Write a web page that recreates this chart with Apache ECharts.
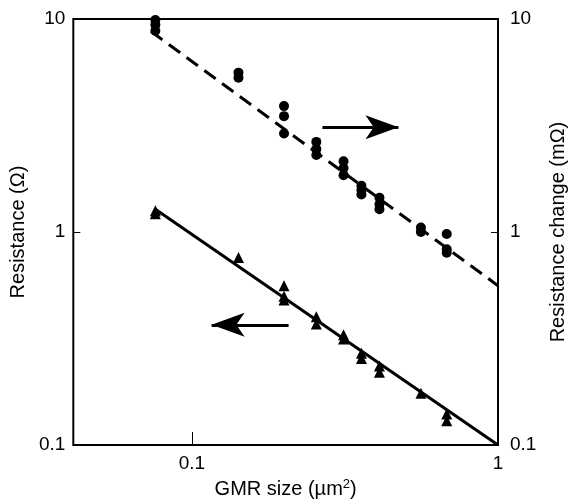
<!DOCTYPE html>
<html>
<head>
<meta charset="utf-8">
<script src="https://cdn.jsdelivr.net/npm/echarts@6/dist/echarts.min.js"></script>
<style>
  html, body { margin: 0; padding: 0; background: #fff; }
  #chart { width: 576px; height: 504px; }
</style>
</head>
<body>
<div id="chart"></div>
<script>
// GMR element size (µm²) for each resistance measurement
const resSize = [0.076, 0.076, 0.142, 0.2, 0.2, 0.2, 0.255, 0.255, 0.313, 0.313, 0.358, 0.358, 0.41, 0.41, 0.56, 0.68, 0.68];
// Resistance (Ω), left axis
const resistance = [1.26, 1.22, 0.76, 0.56, 0.50, 0.48, 0.40, 0.37, 0.33, 0.315, 0.27, 0.255, 0.235, 0.22, 0.175, 0.14, 0.13];

// GMR element size (µm²) for each resistance-change measurement
const chgSize = [0.076, 0.076, 0.076, 0.142, 0.142, 0.2, 0.2, 0.2, 0.255, 0.255, 0.255, 0.313, 0.313, 0.313, 0.358, 0.358, 0.358, 0.41, 0.41, 0.41, 0.56, 0.56, 0.68, 0.68, 0.68];
// Resistance change (mΩ), right axis
const resChange = [9.9, 9.4, 8.8, 5.6, 5.3, 3.9, 3.5, 2.9, 2.65, 2.45, 2.3, 2.15, 2.0, 1.85, 1.65, 1.57, 1.5, 1.45, 1.35, 1.28, 1.05, 1.0, 0.98, 0.83, 0.80];

// Fitted trend lines (end points in data units)
const resFitX = [0.076, 1];
const resFitY = [1.28, 0.1];
const chgFitX = [0.0736, 1];
const chgFitY = [8.74, 0.56];

// Arrows pointing each data set to its axis
const chgArrowX = [0.267, 0.473];
const chgArrowY = 3.1;
const resArrowX = [0.207, 0.116];
const resArrowY = 0.367;

// Axis limits and labelled ticks
const xRange = [0.041, 1];
const yRange = [0.1, 10];
const xTickLabels = [0.1, 1];
const yTickLabels = [0.1, 1, 10];

const zip = (xs, ys) => xs.map((x, i) => [x, ys[i]]);
const FONT = '"Liberation Sans", Arial, sans-serif';
const TICK_FS = 19;
const NAME_FS = 20;

function tickFormatter(list) {
  return v => {
    const hit = list.find(t => Math.abs(Math.log10(v) - Math.log10(t)) < 1e-6);
    return hit === undefined ? '' : String(hit);
  };
}

const chart = echarts.init(document.getElementById('chart'), null, { renderer: 'canvas' });

const yAxisBase = {
  type: 'log',
  logBase: 10,
  min: yRange[0],
  max: yRange[1],
  nameLocation: 'middle',
  nameTextStyle: { fontFamily: FONT, fontSize: NAME_FS, color: '#000' },
  axisLine: { show: false },
  axisTick: { show: true, inside: true, length: 7, lineStyle: { color: '#000', width: 1 } },
  minorTick: { show: false },
  splitLine: { show: false },
  axisLabel: { fontFamily: FONT, fontSize: TICK_FS, color: '#000', formatter: tickFormatter(yTickLabels), showMinLabel: true, showMaxLabel: true }
};

const arrowLine = {
  silent: true,
  symbol: ['none', 'arrow'],
  symbolSize: [18, 33],
  label: { show: false },
  lineStyle: { color: '#000', width: 3, type: 'solid' }
};

chart.setOption({
  animation: false,
  backgroundColor: '#fff',
  grid: { left: 71, right: 71, top: 19, bottom: 53, show: true, borderColor: '#000', borderWidth: 2 },
  xAxis: {
    type: 'log',
    logBase: 10,
    min: xRange[0],
    max: xRange[1],
    name: '{a|GMR size (µm}{s|2}{a|)}',
    nameLocation: 'middle',
    nameGap: 32,
    nameTextStyle: {
      rich: {
        a: { fontFamily: FONT, fontSize: NAME_FS, color: '#000' },
        s: { fontFamily: FONT, fontSize: 13, color: '#000', verticalAlign: 'top', padding: [0, 0, 9, 0] }
      }
    },
    axisLine: { show: false },
    axisTick: { show: true, inside: true, length: 13, lineStyle: { color: '#000', width: 1 } },
    splitLine: { show: false },
    axisLabel: { fontFamily: FONT, fontSize: TICK_FS, color: '#000', margin: 9, formatter: tickFormatter(xTickLabels), showMinLabel: false }
  },
  yAxis: [
    Object.assign({}, yAxisBase, { position: 'left', name: 'Resistance (Ω)', nameGap: 38 }),
    Object.assign({}, yAxisBase, { position: 'right', name: 'Resistance change (mΩ)', nameGap: 50, axisLabel: Object.assign({}, yAxisBase.axisLabel, { margin: 12 }) })
  ],
  series: [
    {
      name: 'Resistance change fit',
      type: 'line',
      yAxisIndex: 1,
      data: zip(chgFitX, chgFitY),
      showSymbol: false,
      lineStyle: { color: '#000', width: 3, type: [14, 8] },
      z: 2
    },
    {
      name: 'Resistance fit',
      type: 'line',
      yAxisIndex: 0,
      data: zip(resFitX, resFitY),
      showSymbol: false,
      lineStyle: { color: '#000', width: 3 },
      z: 2
    },
    {
      name: 'Resistance change',
      type: 'scatter',
      yAxisIndex: 1,
      data: zip(chgSize, resChange),
      symbol: 'circle',
      symbolSize: 10,
      itemStyle: { color: '#000', opacity: 1 },
      z: 3
    },
    {
      name: 'Resistance',
      type: 'scatter',
      yAxisIndex: 0,
      data: zip(resSize, resistance),
      symbol: 'triangle',
      symbolSize: 11,
      itemStyle: { color: '#000', opacity: 1 },
      z: 3
    },
    {
      name: 'Change arrow',
      type: 'line',
      yAxisIndex: 1,
      data: [],
      markLine: Object.assign({}, arrowLine, {
        data: [[{ coord: [chgArrowX[0], chgArrowY] }, { coord: [chgArrowX[1], chgArrowY] }]]
      })
    },
    {
      name: 'Resistance arrow',
      type: 'line',
      yAxisIndex: 0,
      data: [],
      markLine: Object.assign({}, arrowLine, {
        data: [[{ coord: [resArrowX[0], resArrowY] }, { coord: [resArrowX[1], resArrowY] }]]
      })
    }
  ]
});
</script>
</body>
</html>
